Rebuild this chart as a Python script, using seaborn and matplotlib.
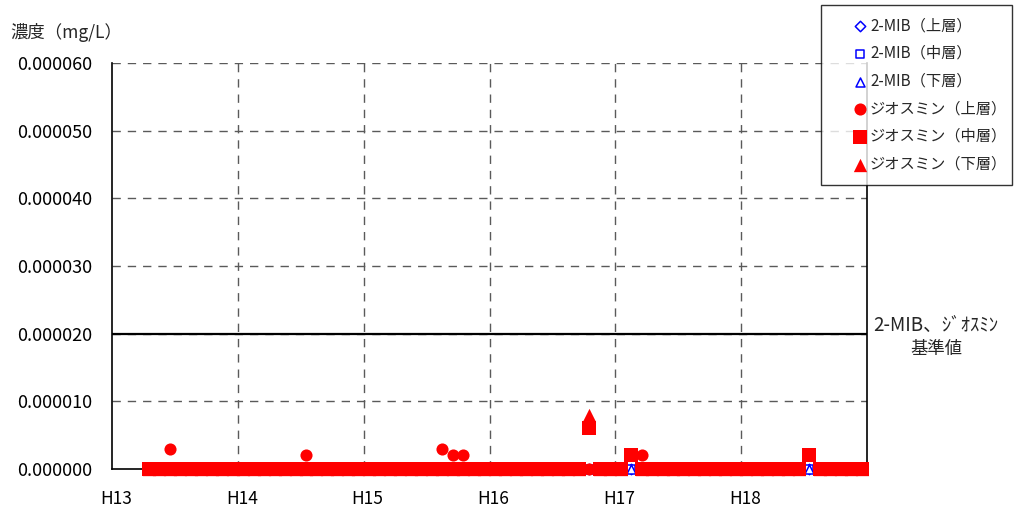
import numpy as np
import pandas as pd
import matplotlib
matplotlib.use("Agg")
import matplotlib.pyplot as plt
from matplotlib.ticker import FixedLocator, FuncFormatter
from matplotlib.transforms import ScaledTranslation
import seaborn as sns

nan = np.nan

# Sampling months: H13 April .. H18 December (Heisei year, month)
sample_year = [13] * 9 + [14] * 12 + [15] * 12 + [16] * 12 + [17] * 12 + [18] * 12
sample_month = list(range(4, 13)) + list(range(1, 13)) * 5

# Concentrations (mg/L)
mib_upper = [
    0, 0, 0, 0, 0, 0, 0, 0, 0,
    0, 0, 0, 0, 0, 0, 0, 0, 0, 0, 0, 0,
    0, 0, 0, 0, 0, 0, 0, 0, 0, 0, 0, 0,
    0, 0, 0, 0, 0, 0, 0, 0, 0, 0, 0, 0,
    0, 0, 0, 0, 0, 0, 0, 0, 0, 0, 0, 0,
    0, 0, 0, 0, 0, 0, 0, 0, 0, 0, 0, 0,
]
mib_middle = [
    0, 0, 0, 0, 0, 0, 0, 0, 0,
    0, 0, 0, 0, 0, 0, 0, 0, 0, 0, 0, 0,
    0, 0, 0, 0, 0, 0, 0, 0, 0, 0, 0, 0,
    0, 0, 0, 0, 0, 0, 0, 0, 0, 0, 0, 0,
    0, 0, 0, 0, 0, 0, 0, 0, 0, 0, 0, 0,
    0, 0, 0, 0, 0, 0, 0, 0, 0, 0, 0, 0,
]
mib_lower = [
    0, 0, 0, 0, 0, 0, 0, 0, 0,
    0, 0, 0, 0, 0, 0, 0, 0, 0, 0, 0, 0,
    0, 0, 0, 0, 0, 0, 0, 0, 0, 0, 0, 0,
    0, 0, 0, 0, 0, 0, 0, 0, 0, 0, 0, 0,
    0, 0, 0, 0, 0, 0, 0, 0, 0, 0, 0, 0,
    0, 0, 0, 0, 0, 0, 0, 0, 0, 0, 0, 0,
]
geo_upper = [
    0, 0, 3e-6, 0, 0, 0, 0, 0, 0,
    0, 0, 0, 0, 0, 0, 2e-6, 0, 0, 0, 0, 0,
    0, 0, 0, 0, 0, 0, 0, 3e-6, 2e-6, 2e-6, 0, 0,
    0, 0, 0, 0, 0, 0, 0, 0, 0, 0, 0, 0,
    0, nan, 2e-6, 0, 0, 0, 0, 0, 0, 0, 0, 0,
    0, 0, 0, 0, 0, 0, nan, 0, 0, 0, 0, 0,
]
geo_middle = [
    0, 0, 0, 0, 0, 0, 0, 0, 0,
    0, 0, 0, 0, 0, 0, 0, 0, 0, 0, 0, 0,
    0, 0, 0, 0, 0, 0, 0, 0, 0, 0, 0, 0,
    0, 0, 0, 0, 0, 0, 0, 0, 0, 6e-6, 0, 0,
    0, 2e-6, 0, 0, 0, 0, 0, 0, 0, 0, 0, 0,
    0, 0, 0, 0, 0, 0, 2e-6, 0, 0, 0, 0, 0,
]
geo_lower = [
    0, 0, 0, 0, 0, 0, 0, 0, 0,
    0, 0, 0, 0, 0, 0, 0, 0, 0, 0, 0, 0,
    0, 0, 0, 0, 0, 0, 0, 0, 0, 0, 0, 0,
    0, 0, 0, 0, 0, 0, 0, 0, 0, 8e-6, 0, 0,
    0, nan, 0, 0, 0, 0, 0, 0, 0, 0, 0, 0,
    0, 0, 0, 0, 0, 0, nan, 0, 0, 0, 0, 0,
]

standard_value = 0.00002
year_ticks = [13, 14, 15, 16, 17, 18, 19]
year_labels = ["H13", "H14", "H15", "H16", "H17", "H18", ""]
y_ticks = [0, 0.00001, 0.00002, 0.00003, 0.00004, 0.00005, 0.00006]

series_labels = [
    "2-MIB（上層）", "2-MIB（中層）", "2-MIB（下層）",
    "ジオスミン（上層）", "ジオスミン（中層）", "ジオスミン（下層）",
]
series_values = [mib_upper, mib_middle, mib_lower, geo_upper, geo_middle, geo_lower]

sns.set_theme(style="white")
plt.rcParams["font.family"] = ["Noto Sans CJK JP", "DejaVu Sans"]

t = np.array(sample_year) + (np.array(sample_month) - 0.5) / 12.0
frames = []
for lab, vals in zip(series_labels, series_values):
    frames.append(pd.DataFrame({"t": t, "value": vals, "series": lab}))
df = pd.concat(frames, ignore_index=True)

fig = plt.figure(figsize=(10.15, 5.13), dpi=100)
ax = fig.add_axes([112 / 1015, 1 - 469 / 513, (867 - 112) / 1015, (469 - 63) / 513])

blue = "#0000ff"
red = "#ff0000"
styles = {
    "2-MIB（上層）": dict(marker="D", s=28, facecolor="white", edgecolor=blue, linewidth=1.1),
    "2-MIB（中層）": dict(marker="s", s=36, facecolor="white", edgecolor=blue, linewidth=1.1),
    "2-MIB（下層）": dict(marker="^", s=42, facecolor="white", edgecolor=blue, linewidth=1.1),
    "ジオスミン（上層）": dict(marker="o", s=76, color=red, linewidth=0),
    "ジオスミン（中層）": dict(marker="s", s=88, color=red, linewidth=0),
    "ジオスミン（下層）": dict(marker="^", s=92, color=red, linewidth=0),
}

for lab in series_labels:
    sub = df[df["series"] == lab].dropna()
    sns.scatterplot(data=sub, x="t", y="value", ax=ax, label=lab,
                    clip_on=False, zorder=5, **styles[lab])

# dashed grid
grid_kw = dict(color="#5a5a5a", lw=1.0, ls=(0, (6, 5)), zorder=1)
for yv in y_ticks[1:]:
    ax.axhline(yv, **grid_kw)
for xv in year_ticks[1:-1]:
    ax.axvline(xv, **grid_kw)

# guideline value
ax.axhline(standard_value, color="black", lw=1.6, zorder=3)

ax.set_xlim(13, 19)
ax.set_ylim(0, 0.00006)
ax.xaxis.set_major_locator(FixedLocator(year_ticks))
ax.set_xticklabels(year_labels)
ax.yaxis.set_major_locator(FixedLocator(y_ticks))
ax.yaxis.set_major_formatter(FuncFormatter(lambda v, p: f"{v:.6f}"))
ax.tick_params(axis="y", length=0, pad=14, labelsize=13, colors="black")
ax.tick_params(axis="x", length=0, pad=15, labelsize=12.5, colors="black")
shift = ScaledTranslation(4 / 100, 0, fig.dpi_scale_trans)
for lbl in ax.get_xticklabels():
    lbl.set_transform(lbl.get_transform() + shift)
ax.set_xlabel("")
ax.set_ylabel("")

for side in ["left", "bottom", "right"]:
    ax.spines[side].set_visible(True)
    ax.spines[side].set_color("black")
    ax.spines[side].set_linewidth(1.2)
ax.spines["top"].set_visible(False)

fig.text(10 / 1015, 1 - 32 / 513, "濃度（mg/L）", ha="left", va="center", fontsize=12.5)
fig.text(936 / 1015, 1 - 325 / 513, "2-MIB、ｼﾞｵｽﾐﾝ", ha="center", va="center", fontsize=13.5)
fig.text(936 / 1015, 1 - 349 / 513, "基準値", ha="center", va="center", fontsize=12.5)

handles, labels = ax.get_legend_handles_labels()
ax.get_legend().remove()
leg = fig.legend(handles, labels, loc="upper left",
                 bbox_to_anchor=(821 / 1015, 1 - 176 / 513, 191 / 1015, 171 / 513),
                 mode="expand", borderaxespad=0,
                 frameon=True, fancybox=False, shadow=False,
                 fontsize=11, labelspacing=0.7, handletextpad=-1.1,
                 borderpad=0.8, handlelength=3.51, scatterpoints=1)
leg.get_frame().set_edgecolor("black")
leg.get_frame().set_linewidth(1.0)

fig.savefig("out.png", dpi=100, facecolor="white")
